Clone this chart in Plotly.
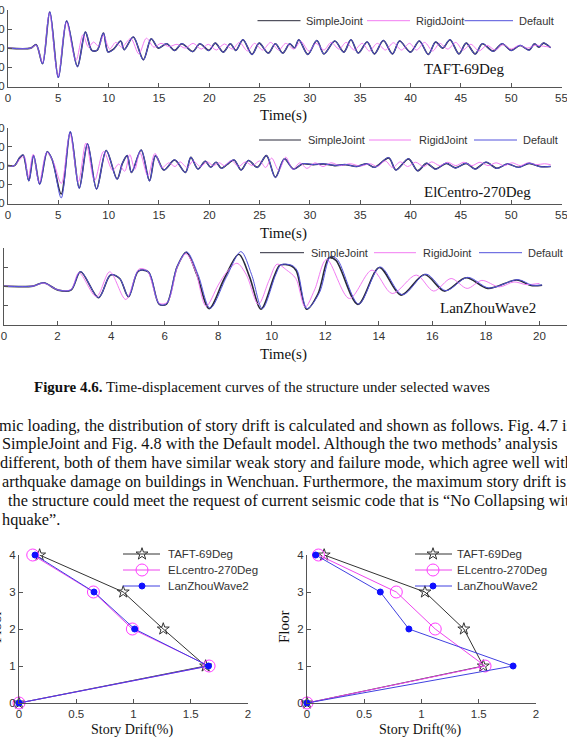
import plotly.graph_objects as go

W, H = 567, 743

# ---------------- data ----------------
taft_t = [0, 2.25, 2.8, 3.43, 4.15, 5.0, 5.83, 6.9, 7.69, 8.33, 8.87, 9.48, 9.94, 10.5, 11.2,
          11.55, 12.45, 13.45, 14.23, 14.95, 15.77, 16.56, 17.27, 18.35, 19.06, 19.96, 20.6, 21.39, 22.1, 22.64,
          23.35, 24.25, 24.96, 25.86, 26.57, 27.29, 28.0, 28.47, 28.9, 29.79, 30.69, 31.4, 32.47, 33.37, 34.08,
          34.8, 35.69, 36.41, 37.3, 38.2, 38.91, 39.99, 40.88, 41.77, 42.49, 43.2, 43.92, 44.81, 45.53, 46.42,
          47.14, 48.21, 49.1, 50.0, 50.89, 51.79, 52.32, 52.75, 53.2, 53.92]
taft_simple = [0, 0, 1.8, -8.2, 18.9, -15.3, 14.2, -9.6, 8.4, -1.2, -1.0, 7.9, -2.0, -0.5, 3.7,
               -0.8, 5.8, -6.1, 4.9, 0.0, 2.3, -1.2, 2.3, -1.8, 2.3, -1.2, 2.6, -2.1, 2.3, -1.2,
               4.4, -3.3, 2.6, -2.6, 2.3, -2.6, 2.3, 0.0, 4.4, -3.3, 4.0, -3.0, 3.7, -2.1, 4.4,
               -2.6, 3.2, -3.0, 4.0, -3.0, 3.7, -2.1, 3.7, -3.3, 3.2, 0.0, 4.4, -3.0, 2.6, -3.0,
               2.3, -1.6, 2.3, -1.2, 1.4, -1.0, 2.3, 0.5, 2.6, 0.2]
taft_default = [0, 0, 1.8, -8.3, 19.1, -15.6, 14.4, -9.8, 8.5, -1.3, -1.1, 8.0, -2.1, -0.6, 3.8,
                -0.9, 5.9, -6.2, 5.0, 0.1, 2.4, -1.3, 2.4, -1.9, 2.4, -1.3, 2.7, -2.2, 2.4, -1.3,
                4.5, -3.4, 2.7, -2.7, 2.4, -2.7, 2.4, 0.1, 4.5, -3.4, 4.1, -3.1, 3.8, -2.2, 4.5,
                -2.7, 3.3, -3.1, 4.1, -3.1, 3.8, -2.2, 3.8, -3.4, 3.3, 0.1, 4.5, -3.1, 2.7, -3.1,
                2.4, -1.7, 2.4, -1.3, 1.5, -1.1, 2.4, 0.6, 2.7, 0.3]
taft_rigid_t = [0, 2.25, 2.8, 3.43, 4.12, 4.98, 5.8, 6.75, 7.45, 8.0, 8.5, 9.0, 9.5, 10.1, 10.7,
                11.3, 12.2, 13.0, 13.75, 14.5, 15.2, 16.0, 16.8, 17.6, 18.4, 19.2, 19.9, 20.7, 21.5, 22.3,
                23.0, 23.8, 24.5, 25.3, 26.1, 26.9, 27.6, 28.4, 29.1, 29.9, 30.6, 31.4, 32.1, 32.9, 33.6,
                34.4, 35.2, 35.9, 36.7, 37.5, 38.3, 39.1, 39.9, 40.6, 41.4, 42.2, 42.9, 43.7, 44.5, 45.2,
                46.0, 46.8, 47.6, 48.4, 49.2, 50.0, 50.8, 51.6, 52.4, 53.2, 53.92]
taft_rigid = [0, 0, 1.5, -7.5, 18.5, -14.8, 13.5, -6.5, 7.0, 0.5, 3.2, 1.0, 6.7, -0.5, 3.0,
              0.5, 5.0, -3.0, 5.2, 0.5, 2.5, 0.8, 2.0, 0.0, 2.5, -0.5, 2.0, -1.0, 2.2, -0.5,
              3.0, -1.5, 2.5, -1.0, 3.0, -1.0, 2.5, -0.5, 3.5, -1.5, 2.5, -1.0, 3.0, -0.5, 3.0,
              -1.0, 2.5, -1.5, 2.5, -1.0, 2.8, -1.0, 2.5, -1.0, 3.0, -1.5, 2.5, -0.5, 3.0, -1.0,
              2.0, -1.5, 1.5, -1.0, 1.8, -0.5, 1.5, 0.0, 1.5, 1.0, 0.5]

elc_t = [0, 0.64, 1.18, 1.5, 2.07, 2.54, 3.15, 3.9, 4.4, 5.29, 6.19, 7.08, 7.9, 8.8, 9.76,
         10.84, 11.37, 11.84, 12.27, 13.23, 14.06, 14.66, 15.49, 16.56, 17.63, 18.17, 18.88, 19.6, 20.14, 20.67,
         21.2, 21.75, 22.46, 23.17, 23.9, 24.78, 25.68, 26.57, 27.47, 28.36, 29.26, 30.33, 31.4, 32.47, 33.55,
         34.62, 35.69, 36.41, 37.84, 38.55, 39.8, 40.7, 41.59, 42.49, 43.56, 44.46, 45.53, 46.42, 47.5, 48.57,
         49.64, 50.72, 51.79, 52.86, 53.93]
elc_simple = [0, 0, 4.4, 5.6, -8.0, 5.3, -9.8, 7.4, 3.0, -15.1, 17.8, -11.9, 11.5, -12.4, 8.0,
              -7.1, 1.2, 5.3, -3.6, 8.3, -8.0, 5.3, -2.3, 3.0, -3.6, 4.4, -1.8, 2.3, -0.9, 1.8,
              -1.4, 0.5, 3.0, -2.3, 2.7, -0.9, 5.3, -6.2, 3.6, -1.8, 0.9, 0.5, 0.9, 0.0, 0.5,
              -0.4, 0.9, -0.9, 4.1, -2.3, 3.6, -2.7, 1.2, -1.8, 1.2, -1.2, 1.2, -1.8, 1.8, -1.4,
              0.9, -0.9, 1.2, -0.5, -0.5]
elc_default = [0, 0, 4.5, 5.7, -8.2, 5.4, -10.0, 7.5, 3.1, -17.2, 18.2, -12.1, 11.7, -12.6, 8.1,
               -7.3, 1.3, 5.4, -3.7, 8.4, -8.2, 5.4, -2.4, 3.1, -3.7, 4.5, -1.9, 2.4, -1.0, 1.9,
               -1.5, 0.6, 3.1, -2.4, 2.8, -1.0, 5.4, -6.4, 3.7, -1.9, 1.0, 0.6, 1.0, 0.1, 0.6,
               -0.5, 1.0, -1.0, 4.3, -2.4, 3.7, -2.8, 1.3, -1.9, 1.3, -1.3, 1.3, -1.9, 1.9, -1.5,
               1.0, -1.0, 1.3, -0.6, -0.4]
elc_rigid_t = [0, 0.64, 1.2, 1.6, 2.0, 2.5, 3.1, 3.85, 4.5, 5.3, 6.15, 7.0, 7.75, 8.6, 9.5,
               10.4, 11.0, 11.6, 12.1, 12.6, 13.1, 13.9, 14.6, 15.3, 16.0, 16.6, 17.1, 17.8, 18.4, 19.1,
               19.8, 20.4, 21.0, 21.5, 22.2, 22.9, 23.6, 24.3, 25.0, 25.6, 26.2, 26.9, 27.6, 28.3, 29.0,
               29.7, 30.5, 31.3, 32.1, 33.0, 34.0, 35.0, 36.0, 36.7, 37.5, 38.2, 39.0, 39.7, 40.5, 41.3,
               42.1, 42.9, 43.7, 44.5, 45.3, 46.1, 46.9, 47.7, 48.5, 49.3, 50.1, 50.9, 51.7, 52.5, 53.3, 53.93]
elc_rigid = [0, 0, 3.5, 5.0, -6.5, 6.0, -9.0, 7.0, 2.0, -9.5, 17.0, -8.5, 12.0, -8.0, 7.5,
             -2.5, 0.8, -3.0, 5.8, -2.0, 7.0, -5.5, 6.5, -1.0, 1.5, -0.5, 2.0, -1.0, 2.5, -0.5,
             2.0, 0.0, 1.5, 0.0, 2.8, -0.5, 2.0, 0.0, 2.5, -1.0, 4.0, -2.5, 4.5, -2.0, 1.5,
             -1.5, 1.5, -0.5, 1.5, 0.0, 1.0, -0.2, 1.0, -0.5, 2.5, -1.0, 2.0, -0.5, 1.8, -0.5,
             2.0, 0.0, 1.8, 0.0, 1.8, 0.0, 1.8, 0.0, 1.5, 0.0, 1.5, 0.0, 1.5, 0.5, 1.0, 0.5]

lz_t = [0, 1.08, 1.48, 2.02, 2.5, 2.86, 3.53, 3.98, 4.32, 4.65, 5.02, 5.39, 5.8, 6.07, 6.47,
        6.81, 7.21, 7.66, 8.23, 8.77, 9.17, 9.6, 10.11, 10.31, 10.72, 10.92, 11.3, 11.73, 12.14, 12.4,
        13.22, 14.02, 14.83, 15.71, 16.45, 17.26, 18.07, 19.15, 19.69, 20.1]
lz_simple = [0, 0, 1.75, -2.1, -2.1, 7.5, -6.1, 5.8, 4.0, -5.6, 7.9, 7.5, -9.6, -9.4, 10.2,
             17.7, 5.8, -11.8, 4.0, 16.7, 5.0, -12.1, 5.8, 11.0, 10.7, 8.0, -12.1, -4.0, 14.9, 13.5,
             -9.6, 9.8, -4.7, 6.1, -2.6, 4.4, -1.2, 3.2, 0.3, 0.5]
lz_default_t = [0, 1.08, 1.48, 2.02, 2.5, 2.86, 3.53, 3.98, 4.32, 4.65, 5.02, 5.39, 5.8, 6.07, 6.47,
                6.83, 7.25, 7.7, 8.3, 8.85, 9.25, 9.65, 10.15, 10.35, 10.75, 10.95, 11.32, 11.78, 12.2, 12.45,
                13.25, 14.05, 14.88, 15.76, 16.5, 17.32, 18.12, 19.2, 19.72, 20.1]
lz_default = [0, 0, 1.75, -2.0, -2.0, 7.6, -6.0, 5.9, 4.1, -5.5, 8.0, 7.6, -9.5, -9.3, 10.4,
              17.9, 6.0, -11.6, 4.5, 18.1, 6.0, -11.8, 6.0, 11.2, 10.9, 8.2, -11.8, -3.5, 15.5, 14.0,
              -9.4, 10.0, -4.5, 6.3, -2.4, 4.6, -1.0, 3.4, 0.5, 0.6]
lz_rigid_t = [0, 1.08, 1.48, 2.02, 2.5, 2.8, 3.45, 3.95, 4.55, 5.05, 5.35, 5.8, 6.1, 6.5, 6.8,
              7.15, 7.55, 8.0, 8.3, 8.7, 9.05, 9.5, 9.9, 10.2, 10.55, 10.9, 11.25, 11.6, 12.05, 12.9,
              13.75, 14.5, 15.4, 16.05, 16.7, 17.3, 17.85, 18.5, 19.05, 19.5, 20.0]
lz_rigid = [0, 0, 1.6, -2.0, -1.8, 7.0, -5.5, 7.5, -7.0, 9.0, 8.0, -9.0, -8.5, 11.0, 17.0,
            8.0, -10.5, 0.5, 7.0, 12.0, 6.0, -9.5, 3.0, 11.5, 8.5, 4.0, -11.0, -2.0, 14.0, -6.5,
            8.4, -3.9, 5.8, -2.6, 4.0, -1.2, 3.0, -0.4, 2.2, 0.8, 1.4]

floors = [0, 1, 2, 3, 4]
drift_simple_taft = [0, 1.63, 1.26, 0.91, 0.18]
drift_simple_elc = [0, 1.66, 0.99, 0.65, 0.12]
drift_simple_lz = [0, 1.655, 1.01, 0.655, 0.14]
drift_default_taft = [0, 1.54, 1.37, 1.03, 0.15]
drift_default_elc = [0, 1.555, 1.12, 0.78, 0.10]
drift_default_lz = [0, 1.80, 0.89, 0.64, 0.076]

series_names = ["SimpleJoint", "RigidJoint", "Default"]
wave_names = ["TAFT-69Deg", "ELcentro-270Deg", "LanZhouWave2"]

# ---------------- styles ----------------
C_SIMPLE = "#2a2a3a"
C_RIGID = "#f27cf2"
C_DEFAULT = "#5252dc"
AX = "#555555"
TXT = "#333333"
SANS = "Liberation Sans, Arial, sans-serif"
SERIF = "Liberation Serif, Times New Roman, serif"


def fx(px):
    return px / W


def fy(py):
    return 1 - py / H


def dx(a, b):
    return [fx(a), fx(b)]


def dy(top, bottom):
    return [fy(bottom), fy(top)]


fig = go.Figure()


def add_ts(xa, ya, t, v, color, width):
    fig.add_trace(go.Scatter(x=t, y=v, mode="lines", xaxis=xa, yaxis=ya,
                             line=dict(color=color, width=width, shape="spline", smoothing=0.9),
                             showlegend=False, hoverinfo="skip"))


# plot 1
add_ts("x", "y", taft_t, taft_simple, C_SIMPLE, 1.6)
add_ts("x", "y", taft_rigid_t, taft_rigid, C_RIGID, 1.0)
add_ts("x", "y", taft_t, taft_default, C_DEFAULT, 1.0)
# plot 2
add_ts("x2", "y2", elc_t, elc_simple, C_SIMPLE, 1.6)
add_ts("x2", "y2", elc_rigid_t, elc_rigid, C_RIGID, 1.0)
add_ts("x2", "y2", elc_t, elc_default, C_DEFAULT, 1.0)
# plot 3
add_ts("x3", "y3", lz_t, lz_simple, C_SIMPLE, 1.6)
add_ts("x3", "y3", lz_rigid_t, lz_rigid, C_RIGID, 1.0)
add_ts("x3", "y3", lz_default_t, lz_default, C_DEFAULT, 1.0)

# drift plots
D_STYLE = [
    dict(color="#333333", symbol="star-open", size=9, lw=1.0),
    dict(color="#ff3cff", symbol="circle-open", size=12, lw=1.0),
    dict(color="#1010ff", symbol="circle", size=6, lw=1.0),
]
LINE_COL = ["#333333", "#ee44ee", "#4040e0"]
for xa, ya, sets in [("x4", "y4", [drift_simple_taft, drift_simple_elc, drift_simple_lz]),
                     ("x5", "y5", [drift_default_taft, drift_default_elc, drift_default_lz])]:
    for i, d in enumerate(sets):
        st = D_STYLE[i]
        fig.add_trace(go.Scatter(x=d, y=floors, mode="lines+markers", xaxis=xa, yaxis=ya,
                                 line=dict(color=LINE_COL[i], width=st["lw"]),
                                 marker=dict(symbol=st["symbol"], size=st["size"], color=st["color"],
                                             line=dict(color=st["color"], width=1)),
                                 showlegend=False, hoverinfo="skip", cliponaxis=False))

# legend glyphs for drift plots on a pixel overlay axis
for x0, x1, xm, tx in [(123, 160, 142, 166), (415, 452, 433, 455)]:
    for i, yy in enumerate([554, 570, 586]):
        st = D_STYLE[i]
        fig.add_trace(go.Scatter(x=[x0, x1], y=[yy, yy], mode="lines", xaxis="x6", yaxis="y6",
                                 line=dict(color=LINE_COL[i], width=1), showlegend=False, hoverinfo="skip"))
        fig.add_trace(go.Scatter(x=[xm], y=[yy], mode="markers", xaxis="x6", yaxis="y6",
                                 marker=dict(symbol=st["symbol"], size=st["size"], color=st["color"],
                                             line=dict(color=st["color"], width=1)),
                                 showlegend=False, hoverinfo="skip"))

common_x = dict(showline=True, linecolor=AX, linewidth=1, ticks="inside", ticklen=4, tickcolor=AX,
                showgrid=False, zeroline=False, automargin=False, ticklabeloverflow="allow",
                tickfont=dict(family=SANS, size=11.5, color=TXT))
common_y = dict(showline=True, linecolor=AX, linewidth=1, ticks="inside", ticklen=4, tickcolor=AX,
                showgrid=False, zeroline=False, automargin=False, ticklabeloverflow="allow",
                tickfont=dict(family=SANS, size=11.5, color=TXT))

fig.update_layout(
    width=W, height=H, margin=dict(l=0, r=0, t=0, b=0),
    paper_bgcolor="white", plot_bgcolor="rgba(0,0,0,0)", template="none", showlegend=False,
    font=dict(family=SANS, color=TXT),
    xaxis=dict(domain=dx(8, 561.5), range=[0, 55], dtick=5, anchor="y", **common_x),
    yaxis=dict(domain=dy(10, 87), range=[-20.4, 20], dtick=10, anchor="x", **common_y),
    xaxis2=dict(domain=dx(8, 561.5), range=[0, 55], dtick=5, anchor="y2", **common_x),
    yaxis2=dict(domain=dy(128, 204), range=[-20.4, 20], dtick=10, anchor="x2", **common_y),
    xaxis3=dict(domain=dx(4, 567), range=[0, 21.03], dtick=2, anchor="y3", **common_x),
    yaxis3=dict(domain=dy(248, 325), range=[-20.4, 20], dtick=10, anchor="x3", showticklabels=False,
                **common_y),
    xaxis4=dict(domain=dx(19, 248), range=[0, 2], dtick=0.5, anchor="y4", **common_x),
    yaxis4=dict(domain=dy(555, 703), range=[0, 4], dtick=1, anchor="x4", **common_y),
    xaxis5=dict(domain=dx(307, 536), range=[0, 2], dtick=0.5, anchor="y5", **common_x),
    yaxis5=dict(domain=dy(555, 703), range=[0, 4], dtick=1, anchor="x5", **common_y),
    xaxis6=dict(domain=[0, 1], range=[0, W], visible=False, anchor="y6"),
    yaxis6=dict(domain=[0, 1], range=[H, 0], visible=False, anchor="x6"),
)

ann = []


def text(x, y, s, size, family=SERIF, xanchor="left", color="#111111", angle=0):
    ann.append(dict(x=fx(x), y=fy(y), xref="paper", yref="paper", text=s, showarrow=False,
                    xanchor=xanchor, yanchor="middle", textangle=angle,
                    font=dict(family=family, size=size, color=color)))


# time-history legends (line samples + labels)
shapes = []
legend_rows = [
    (20.7, [(257.5, 300.5, 304), (367, 410, 414), (464.5, 513, 517)]),
    (140, [(259, 301, 305.5), (369, 411, 417), (474, 517, 521)]),
    (252.7, [(260, 304, 309), (374, 416, 421), (479, 522, 526)]),
]
for yy, items in legend_rows:
    for (x0, x1, tx), name, col in zip(items, series_names, [C_SIMPLE, C_RIGID, C_DEFAULT]):
        shapes.append(dict(type="line", xref="paper", yref="paper", x0=fx(x0), x1=fx(x1), y0=fy(yy), y1=fy(yy),
                           line=dict(color=col, width=1)))
        text(tx, yy, name, 11, family=SANS, color=TXT)

# wave labels
text(421.7, 69, "TAFT-69Deg", 15)
text(421.7, 191.7, "ElCentro-270Deg", 15)
text(438, 308, "LanZhouWave2", 15)

# axis titles
for yy in [116, 233, 354]:
    text(283, yy, "Time(s)", 15, xanchor="center")
text(132, 730, "Story Drift(%)", 14, xanchor="center")
text(420, 730, "Story Drift(%)", 14, xanchor="center")
text(284, 627, "Floor", 15, xanchor="center", angle=-90)
text(-4, 627, "Floor", 15, xanchor="center", angle=-90)

# drift legend labels
for tx in [166, 455]:
    for name, yy in zip(wave_names, [554, 570, 586]):
        text(tx, yy, name, 11.5, family=SANS, color=TXT)

# caption and body text
text(262, 387, "<b>Figure 4.6.</b> Time-displacement curves of the structure under selected waves", 15,
     xanchor="center")
body = [
    (-3, "mic loading, the distribution of story drift is calculated and shown as follows. Fig. 4.7 is"),
    (0, "SimpleJoint and Fig. 4.8 with the Default model. Although the two methods\u2019 analysis"),
    (-2, "different, both of them have similar weak story and failure mode, which agree well with"),
    (0, "arthquake damage on buildings in Wenchuan. Furthermore, the maximum story drift is"),
    (6, "the structure could meet the request of current seismic code that is \u201cNo Collapsing with"),
    (0, "hquake\u201d."),
]
for i, (x0, line) in enumerate(body):
    text(x0, 425 + i * 18.85, line, 16.3)

fig.update_layout(annotations=ann, shapes=shapes)
fig.write_html("out.html")
